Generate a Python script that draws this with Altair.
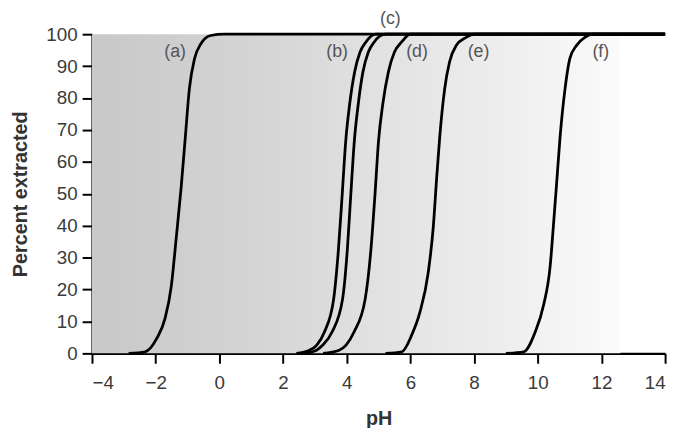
import altair as alt
import pandas as pd

# Curve points (pH, percent extracted)
ph_a = [-2.85, -2.33, -1.97, -1.71, -1.51, -1.35, -1.20, -1.07, -0.94, -0.78, -0.58, -0.27, 0.15, 14]
pct_a = [0, 0.5, 4.6, 10.8, 21, 36.6, 52, 67.6, 83, 92.3, 97, 99.6, 100, 100]

ph_b = [2.42, 2.83, 3.06, 3.30, 3.59, 3.74, 3.86, 3.97, 4.09, 4.25, 4.42, 4.60, 4.91, 14]
pct_b = [0, 1, 2.6, 6.7, 17, 32.5, 50, 66.6, 77.9, 88.2, 94.4, 97.5, 100, 100]

ph_c = [2.64, 3.05, 3.25, 3.54, 3.87, 4.02, 4.13, 4.24, 4.36, 4.51, 4.68, 4.86, 5.22, 14]
pct_c = [0, 1, 2.6, 6.7, 17, 32.5, 50, 66.6, 77.9, 88.2, 94.4, 97.5, 100, 100]

ph_d = [3.26, 3.76, 3.98, 4.23, 4.58, 4.76, 4.89, 5.00, 5.13, 5.31, 5.50, 5.72, 6.0, 14]
pct_d = [0, 1, 2.6, 6.7, 17, 32.5, 50, 66.6, 77.9, 88.2, 94.4, 97.5, 100, 100]

ph_e = [5.22, 5.73, 6.04, 6.30, 6.56, 6.72, 6.82, 6.92, 7.08, 7.23, 7.44, 7.75, 8.01, 14]
pct_e = [0, 0.5, 5.7, 12.9, 25.3, 39.7, 54.2, 67.6, 83.1, 91.3, 96.5, 99, 100, 100]

ph_f = [9.0, 9.56, 9.92, 10.18, 10.39, 10.49, 10.60, 10.70, 10.86, 11.01, 11.22, 11.48, 11.74, 14]
pct_f = [0, 0.5, 6.7, 15, 27.3, 39.7, 54.2, 67.6, 83.1, 92.4, 96.5, 99, 100, 100]

label_text = ["(a)", "(b)", "(c)", "(d)", "(e)", "(f)"]
label_ph = [-1.39, 3.70, 5.37, 6.21, 8.14, 11.98]
label_pct = [94.4, 94.4, 104.6, 94.4, 94.4, 94.4]

x_ticks = [-4, -2, 0, 2, 4, 6, 8, 10, 12, 14]
y_ticks = [0, 10, 20, 30, 40, 50, 60, 70, 80, 90, 100]

bg_ph = [-4]
bg_ph2 = [12.6]

curves = []
for name, xs, ys in [("a", ph_a, pct_a), ("b", ph_b, pct_b), ("c", ph_c, pct_c),
                     ("d", ph_d, pct_d), ("e", ph_e, pct_e), ("f", ph_f, pct_f)]:
    for i, (x, y) in enumerate(zip(xs, ys)):
        curves.append({"curve": name, "ph": x, "pct": y, "order": i})
curve_df = pd.DataFrame(curves)

labels_df = pd.DataFrame({"text": label_text, "ph": label_ph, "pct": label_pct})
bg_df = pd.DataFrame({"x": bg_ph, "x2": bg_ph2, "y": [0], "y2": [100]})

xscale = alt.Scale(domain=[-4, 14], nice=False, zero=False)
yscale = alt.Scale(domain=[0, 100], nice=False)

FONT = "Liberation Sans"

x_axis = alt.Axis(values=x_ticks, title="pH", titleFontSize=20, titleFontWeight="bold",
                  titlePadding=16, labelOverlap=False, labelPadding=11)
y_axis = alt.Axis(values=y_ticks, title="Percent extracted", titleFontSize=20,
                  titleFontWeight="bold", titlePadding=16, labelOverlap=False, labelPadding=5)

bg = alt.Chart(bg_df).mark_rect(
    color=alt.LinearGradient(
        gradient="linear",
        stops=[
            alt.GradientStop(color="#c8c8c8", offset=0),
            alt.GradientStop(color="#d4d4d4", offset=0.3),
            alt.GradientStop(color="#e2e2e2", offset=0.55),
            alt.GradientStop(color="#eeeeee", offset=0.78),
            alt.GradientStop(color="#fbfbfb", offset=1),
        ],
        x1=0, x2=1, y1=0, y2=0,
    )
).encode(
    x=alt.X("x:Q", scale=xscale, axis=x_axis),
    x2="x2:Q",
    y=alt.Y("y:Q", scale=yscale, axis=y_axis),
    y2="y2:Q",
)

lines = alt.Chart(curve_df).mark_line(
    color="black", strokeWidth=2.8, interpolate="monotone"
).encode(
    x=alt.X("ph:Q", scale=xscale, axis=x_axis),
    y=alt.Y("pct:Q", scale=yscale, axis=y_axis),
    detail="curve:N",
    order="order:Q",
)

texts = alt.Chart(labels_df).mark_text(
    font=FONT, fontSize=18, color="#555555", align="center", baseline="middle"
).encode(
    x=alt.X("ph:Q", scale=xscale, axis=x_axis),
    y=alt.Y("pct:Q", scale=yscale, axis=y_axis),
    text="text:N",
)

chart = alt.layer(bg, lines, texts).properties(
    width=580, height=323,
    padding={"left": 85, "top": 24, "right": 8, "bottom": 73},
    autosize=alt.AutoSizeParams(type="none"),
).configure_view(stroke=None).configure_axis(
    grid=False,
    domainColor="black", domainWidth=2.2,
    tickColor="black", tickWidth=2, tickSize=10,
    labelFont=FONT, labelFontSize=19, labelColor="#3a3a3a",
    titleFont=FONT, titleColor="#333333",
)

chart.save("out.html", embed_options={"renderer": "svg", "actions": False})
